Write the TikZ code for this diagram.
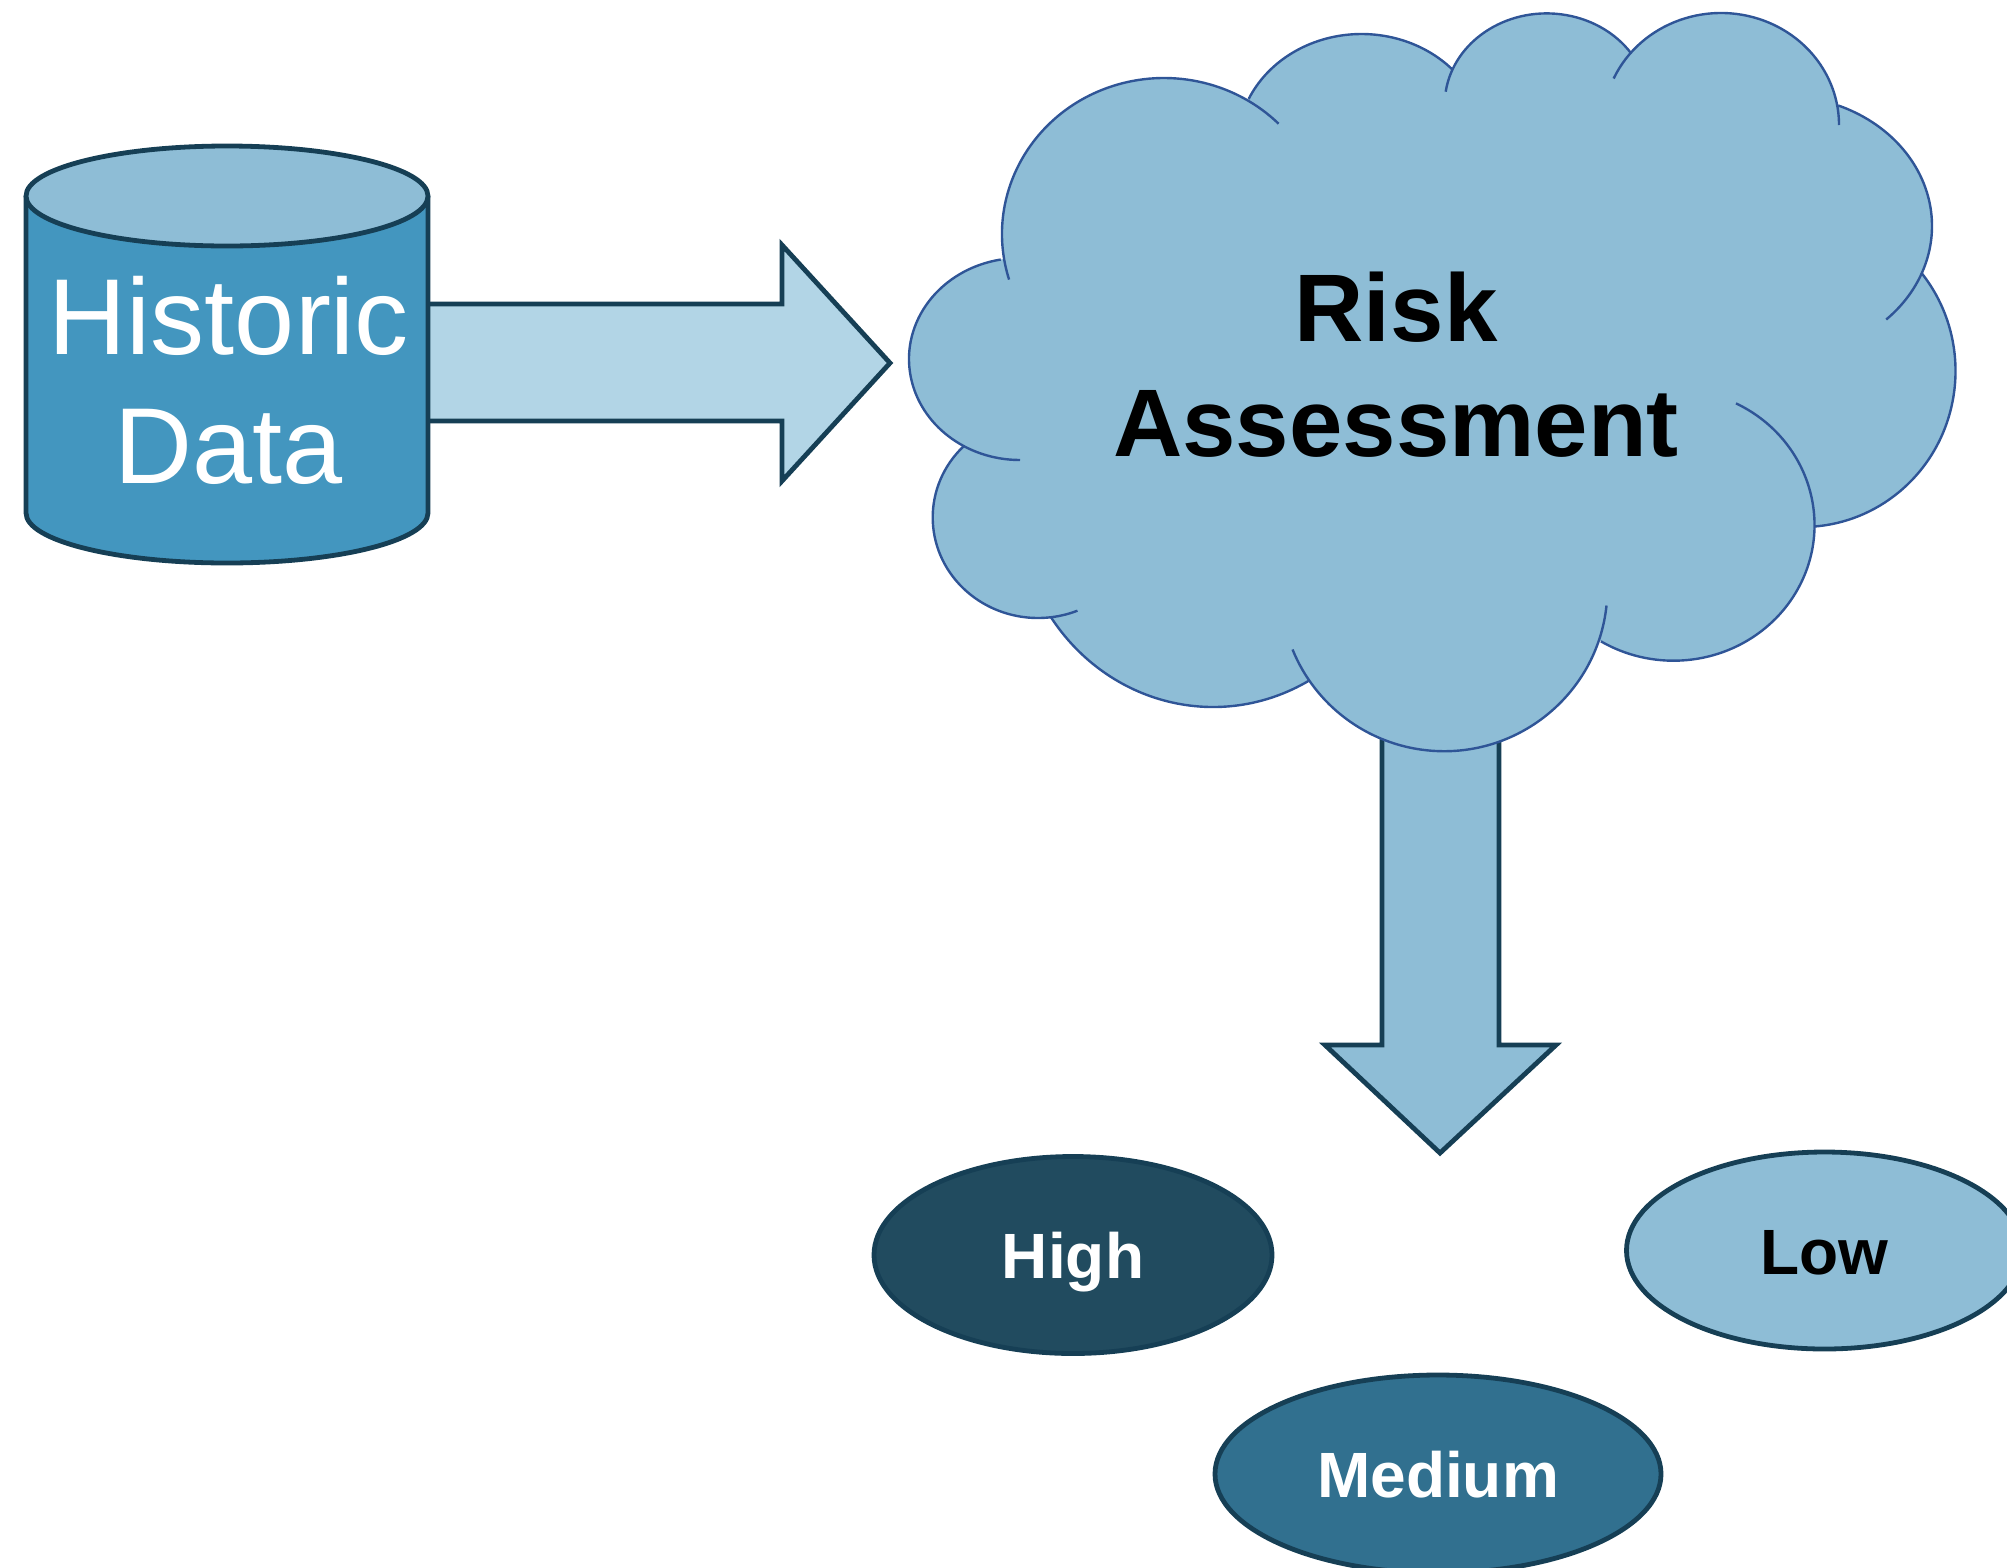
\documentclass[tikz,border=0pt]{standalone}
\usepackage{fontspec}
\setmainfont{Liberation Sans}
\usetikzlibrary{shapes.geometric}
\definecolor{edgedark}{HTML}{163F55}
\definecolor{cloudedge}{HTML}{2F5597}
\definecolor{lightblue}{HTML}{8EBDD6}
\definecolor{paleblue}{HTML}{B2D5E6}
\definecolor{cylblue}{HTML}{4396BF}
\definecolor{highblue}{HTML}{214B5F}
\definecolor{medblue}{HTML}{31708F}
\tikzset{
  blockarrow/.style={draw=edgedark,line width=4.8pt,miter limit=10,line join=miter},
  rating/.style={ellipse,draw=edgedark,line width=4.8pt,inner sep=0pt,font=\bfseries\fontsize{64}{64}\selectfont,text height=47pt,text depth=0pt},
  lobeline/.style={draw=cloudedge,line width=2.4pt,line cap=butt},
}
\newcommand{\lobefill}[4]{\fill[lightblue] (#1,#2) ellipse[x radius=#3,y radius=#4];}
\newcommand{\lobearc}[6]{\draw[lobeline] (#1,#2) ++(#5:#3 and #4) arc[start angle=#5,end angle=#6,x radius=#3,y radius=#4];}
\begin{document}
\begin{tikzpicture}[x=1pt,y=-1pt]
\clip (0,0) rectangle (2007,1567);
% arrow from the cloud downwards
\draw[blockarrow,fill=lightblue] (1382,700) -- (1382,1045) -- (1325,1045) -- (1440,1153) -- (1556,1045) -- (1499,1045) -- (1499,700);
% cloud
\lobefill{1020}{359}{111}{101}
\lobefill{1164}{234}{162}{156}
\lobefill{1361.5}{145}{124}{111}
\lobefill{1546.7}{104.4}{102}{91}
\lobefill{1721}{125}{118}{112}
\lobefill{1782}{226}{150}{130}
\lobefill{1802.5}{371}{153}{156}
\lobefill{1673.5}{525}{141}{135.7}
\lobefill{1444}{588.5}{163.4}{162.7}
\lobefill{1213}{499}{197}{208}
\lobefill{1038}{517.4}{105.3}{100.6}
\fill[lightblue] (1020,359) -- (1164,234) -- (1361.5,145) -- (1546.7,104.4) -- (1721,125) -- (1782,226) -- (1802.5,371) -- (1673.5,525) -- (1444,588.5) -- (1213,577.5) -- (1038,517.4) -- cycle;
\lobearc{1020}{359}{111}{101}{260}{90}
\lobearc{1164}{234}{162}{156}{163}{315}
\lobearc{1361.5}{145}{124}{111}{204.5}{317}
\lobearc{1546.7}{104.4}{102}{91}{188}{326}
\lobearc{1721}{125}{118}{112}{204.5}{360}
\lobearc{1782}{226}{150}{130}{292}{406}
\lobearc{1802.5}{371}{153}{156}{-39}{85.5}
\lobearc{1673.5}{525}{141}{135.7}{-63.7}{121}
\lobearc{1444}{588.5}{163.4}{162.7}{6}{158}
\lobearc{1213}{499}{197}{208}{145.4}{61}
\lobearc{1038}{517.4}{105.3}{100.6}{225}{68}
\node[font=\bfseries\fontsize{96}{115}\selectfont,align=center,inner sep=0pt] (risk) at (1396,365) {Risk\\Assessment};
% arrow from the cylinder
\draw[blockarrow,fill=paleblue] (425,304) -- (782,304) -- (782,245) -- (890,363) -- (782,481) -- (782,421) -- (425,421);
% cylinder
\draw[blockarrow,fill=cylblue] (26,196) -- (26,513) arc[start angle=180,end angle=0,x radius=201,y radius=50] -- (428,196);
\node[ellipse,draw=edgedark,line width=4.8pt,fill=lightblue,inner sep=0pt,minimum width=402pt,minimum height=100pt] (cyltop) at (227,196) {};
\node[text=white,font=\fontsize{108}{129}\selectfont,align=center,inner sep=0pt] (hist) at (229,380) {Historic\\Data};
% ratings
\node[rating,fill=highblue,text=white,minimum width=398pt,minimum height=197pt] (high) at (1073,1255) {High};
\node[rating,fill=lightblue,text=black,minimum width=396pt,minimum height=197pt] (low) at (1824.5,1250.5) {Low};
\node[rating,fill=medblue,text=white,minimum width=446pt,minimum height=198pt] (medium) at (1438,1474) {Medium};
\end{tikzpicture}
\end{document}
